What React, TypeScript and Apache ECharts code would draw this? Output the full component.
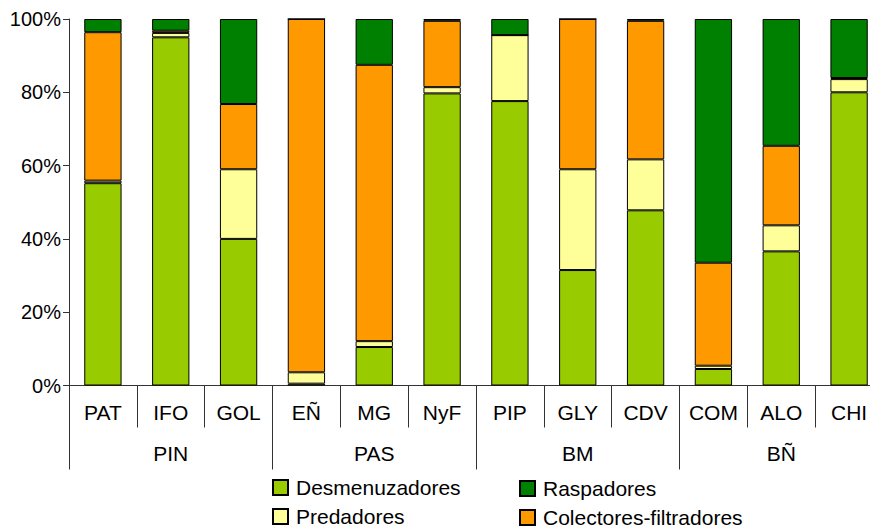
import React, { useEffect, useRef } from "react";
import * as echarts from "echarts";

const categories = ["PAT", "IFO", "GOL", "EÑ", "MG", "NyF", "PIP", "GLY", "CDV", "COM", "ALO", "CHI"];
const groups = ["PIN", "PAS", "BM", "BÑ"];
const desmenuzadores = [55.2, 95.0, 40.0, 0.5, 10.5, 79.7, 77.6, 31.5, 47.8, 4.5, 36.6, 80.0];
const predadores = [0.7, 1.2, 19.0, 3.1, 1.6, 1.7, 18.0, 27.5, 13.9, 0.9, 7.1, 3.6];
const colectores = [40.5, 0.6, 17.8, 96.4, 75.4, 18.1, 0, 41.0, 37.8, 28.1, 21.7, 0.3];
const raspadores = [3.6, 3.2, 23.2, 0, 12.5, 0.5, 4.4, 0, 0.5, 66.5, 34.6, 16.1];
const yTicks = { min: 0, max: 100, interval: 20 };

const FONT = "'Liberation Sans', Arial, sans-serif";
const AXIS_COLOR = "#333";

export default function App() {
  const ref = useRef<HTMLDivElement>(null);
  useEffect(() => {
    if (!ref.current) return;
    const chart = echarts.init(ref.current, null, { renderer: "svg" });
    const bar = (name: string, data: number[], color: string) => ({
      name,
      type: "bar",
      stack: "total",
      data,
      barWidth: "55%",
      xAxisIndex: 0,
      itemStyle: { color, borderColor: "#000", borderWidth: 1 },
    });
    const legendText = { fontSize: 21, fontFamily: FONT, color: "#000", lineHeight: 21, padding: [0, 0, 0, 3] };
    chart.setOption({
      animation: false,
      backgroundColor: "#fff",
      grid: {
        left: 69,
        width: 814,
        top: 19,
        height: 366.5,
        containLabel: false,
        outerBoundsMode: "none",
      },
      legend: [
        {
          data: ["Desmenuzadores", "Predadores"],
          orient: "vertical",
          left: 272,
          top: 477,
          padding: 0,
          itemWidth: 15,
          itemHeight: 15,
          itemGap: 8,
          icon: "rect",
          textStyle: legendText,
        },
        {
          data: ["Raspadores", "Colectores-filtradores"],
          orient: "vertical",
          left: 519,
          top: 478,
          padding: 0,
          itemWidth: 15,
          itemHeight: 15,
          itemGap: 8,
          icon: "rect",
          textStyle: legendText,
        },
      ],
      xAxis: [
        {
          type: "category",
          data: categories,
          position: "bottom",
          axisLine: { show: true, lineStyle: { color: AXIS_COLOR, width: 1 } },
          axisTick: { show: true, interval: 0, length: 42, lineStyle: { color: AXIS_COLOR } },
          axisLabel: { interval: 0, fontSize: 21, fontFamily: FONT, color: "#000", margin: 16 },
          splitLine: { show: false },
        },
        {
          type: "category",
          data: groups,
          position: "bottom",
          axisLine: { show: false },
          axisTick: { show: true, interval: 0, length: 84, lineStyle: { color: AXIS_COLOR } },
          axisLabel: { interval: 0, fontSize: 21, fontFamily: FONT, color: "#000", margin: 57 },
          splitLine: { show: false },
        },
      ],
      yAxis: {
        type: "value",
        min: yTicks.min,
        max: yTicks.max,
        interval: yTicks.interval,
        axisLine: { show: true, lineStyle: { color: AXIS_COLOR, width: 1 } },
        axisTick: { show: true, length: 6, lineStyle: { color: AXIS_COLOR } },
        axisLabel: { formatter: "{value}%", fontSize: 20, fontFamily: FONT, color: "#000", margin: 8 },
        splitLine: { show: false },
      },
      series: [
        bar("Desmenuzadores", desmenuzadores, "#99CC00"),
        bar("Predadores", predadores, "#FFFF99"),
        bar("Colectores-filtradores", colectores, "#FF9900"),
        bar("Raspadores", raspadores, "#008000"),
      ],
    });
    return () => chart.dispose();
  }, []);
  return <div ref={ref} style={{ position: "fixed", left: 0, top: 0, width: 870, height: 528 }} />;
}
